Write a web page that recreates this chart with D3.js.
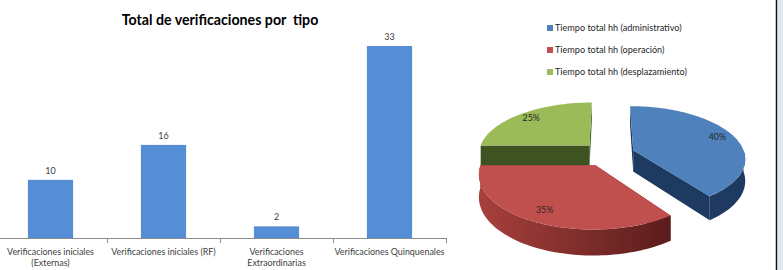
<!DOCTYPE html>
<html>
<head>
<meta charset="utf-8">
<script src="https://cdn.jsdelivr.net/npm/d3@7"></script>
<style>
  html, body { margin: 0; padding: 0; background: #fff; }
  svg { display: block; font-family: Lato, "Open Sans", sans-serif; }
</style>
</head>
<body>
<svg width="783" height="270"></svg>
<script>
// bar chart data
let categories = ["Verificaciones iniciales (Externas)", "Verificaciones iniciales (RF)", "Verificaciones Extraordinarias", "Verificaciones Quinquenales"]
let categoryLines = [["Verificaciones iniciales", "(Externas)"], ["Verificaciones iniciales (RF)"], ["Verificaciones", "Extraordinarias"], ["Verificaciones Quinquenales"]]
let counts = [10, 16, 2, 33]

// pie data
let pieLabels = ["Tiempo total hh (administrativo)", "Tiempo total hh (operación)", "Tiempo total hh (desplazamiento)"]
let pieValues = [40, 35, 25]
let pieColors = ["#4f81bd", "#c0504d", "#9bbb59"]
let sideColors = ["#1f3a60", "#7a2d2b", "#3f5322"]

let svg = d3.select('svg')

// ---- bar chart ----
let baseY = 238

let xScale = d3.scaleBand()
    .domain(categories)
    .range([-6, 446])
    .paddingInner(0.6)
    .paddingOuter(0.3)

let yScale = d3.scaleLinear()
    .domain([0, 33])
    .range([baseY, 46])

svg.append('text')
    .attr('x', 220)
    .attr('y', 25)
    .attr('text-anchor', 'middle')
    .attr('font-size', 14.2)
    .attr('font-weight', 'bold')
    .attr('fill', '#000')
    .style('white-space', 'pre')
    .text('Total de verificaciones por  tipo')

svg.selectAll('.bar')
    .data(counts)
    .enter()
    .append('rect')
    .attr('class', 'bar')
    .attr('x', (d, i) => xScale(categories[i]))
    .attr('y', d => yScale(d))
    .attr('width', xScale.bandwidth())
    .attr('height', d => baseY - yScale(d))
    .attr('fill', '#558ed5')

svg.selectAll('.val')
    .data(counts)
    .enter()
    .append('text')
    .attr('x', (d, i) => xScale(categories[i]) + xScale.bandwidth() / 2)
    .attr('y', d => yScale(d) - 6)
    .attr('text-anchor', 'middle')
    .attr('font-size', 9)
    .attr('fill', '#404040')
    .text(d => d)

// axis line + ticks between categories
svg.append('line')
    .attr('x1', 0).attr('x2', 446)
    .attr('y1', baseY + 0.5).attr('y2', baseY + 0.5)
    .attr('stroke', '#8c8c8c')

let step = xScale.step()
let bounds = d3.range(1, categories.length + 1).map(i => -6 + i * step)
svg.selectAll('.tick')
    .data(bounds)
    .enter()
    .append('line')
    .attr('x1', d => Math.round(d) + 0.5).attr('x2', d => Math.round(d) + 0.5)
    .attr('y1', baseY).attr('y2', baseY + 5)
    .attr('stroke', '#8c8c8c')

categoryLines.forEach((lines, i) => {
    let t = svg.append('text')
        .attr('x', xScale(categories[i]) + xScale.bandwidth() / 2)
        .attr('y', 255)
        .attr('text-anchor', 'middle')
        .attr('font-size', 8.9)
        .attr('fill', '#404040')
    lines.forEach((l, j) => {
        t.append('tspan')
            .attr('x', xScale(categories[i]) + xScale.bandwidth() / 2)
            .attr('dy', j === 0 ? 0 : 10.5)
            .text(l)
    })
})

// ---- 3D pie ----
let cx = 608, cy = 154
let rx = 111.5, sz = 51.4, k = 0.143, depth = 21.5, explode = 0.24

let proj = (X, Z, h) => {
    let p = 1 / (1 - k * Z)
    return [cx + X * rx * p, cy + (Z * sz + h) * p]
}

let arcs = d3.pie().sort(null)(pieValues)
let line = d3.line()

let defs = svg.append('defs')
let grad = defs.append('linearGradient').attr('id', 'redSide')
grad.append('stop').attr('offset', '0%').attr('stop-color', '#a8403d')
grad.append('stop').attr('offset', '100%').attr('stop-color', '#5a1d1b')

let sliceGeom = a => {
    let mid = (a.startAngle + a.endAngle) / 2
    let ox = explode * Math.sin(mid), oz = -explode * Math.cos(mid)
    let pt = (ang, r, h) => proj(ox + r * Math.sin(ang), oz - r * Math.cos(ang), h)
    return { ox, oz, pt }
}

let arcPts = (pt, a0, a1, h) => {
    let n = Math.max(2, Math.ceil((a1 - a0) / 0.03))
    return d3.range(n + 1).map(i => pt(a0 + (a1 - a0) * i / n, 1, h))
}

// draw order: back slices first
let order = [2, 0, 1]
order.forEach(i => {
    let a = arcs[i]
    let g = sliceGeom(a)
    let grp = svg.append('g')
    let side = i === 1 ? 'url(#redSide)' : sideColors[i]
    // radial cut faces
    ;[a.startAngle, a.endAngle].forEach(ang => {
        let face = [g.pt(ang, 0, 0), g.pt(ang, 1, 0), g.pt(ang, 1, depth), g.pt(ang, 0, depth)]
        grp.append('path').attr('d', line(face) + 'Z').attr('fill', sideColors[i])
    })
    // outer wall (front half only)
    let w0 = Math.max(a.startAngle, Math.PI / 2), w1 = Math.min(a.endAngle, 3 * Math.PI / 2)
    if (w1 > w0) {
        let top = arcPts(g.pt, w0, w1, 0)
        let bot = arcPts(g.pt, w0, w1, depth).reverse()
        grp.append('path').attr('d', line(top.concat(bot)) + 'Z').attr('fill', side)
    }
    // top surface
    let topPts = [g.pt(0, 0, 0)].concat(arcPts(g.pt, a.startAngle, a.endAngle, 0))
    grp.append('path').attr('d', line(topPts) + 'Z').attr('fill', pieColors[i])
})

// percentage labels
arcs.forEach((a, i) => {
    let g = sliceGeom(a)
    let mid = (a.startAngle + a.endAngle) / 2
    let p = g.pt(mid, 0.84, 0)
    svg.append('text')
        .attr('x', p[0])
        .attr('y', p[1] + 2)
        .attr('text-anchor', 'middle')
        .attr('font-size', 8.8)
        .attr('fill', '#262626')
        .text(pieValues[i] + '%')
})

// legend
pieLabels.forEach((l, i) => {
    let y = 28 + i * 22
    svg.append('rect')
        .attr('x', 547).attr('y', y - 3)
        .attr('width', 6).attr('height', 6)
        .attr('fill', pieColors[i])
    svg.append('text')
        .attr('x', 555).attr('y', y + 3)
        .attr('font-size', 9.1)
        .attr('fill', '#262626')
        .text(l)
})

// frame edge on the right
svg.append('rect').attr('x', 778).attr('y', 0).attr('width', 5).attr('height', 270).attr('fill', '#dfe7f1')
svg.append('line').attr('x1', 776.5).attr('x2', 776.5).attr('y1', 0).attr('y2', 270).attr('stroke', '#111').attr('stroke-width', 1.5)
</script>
</body>
</html>
